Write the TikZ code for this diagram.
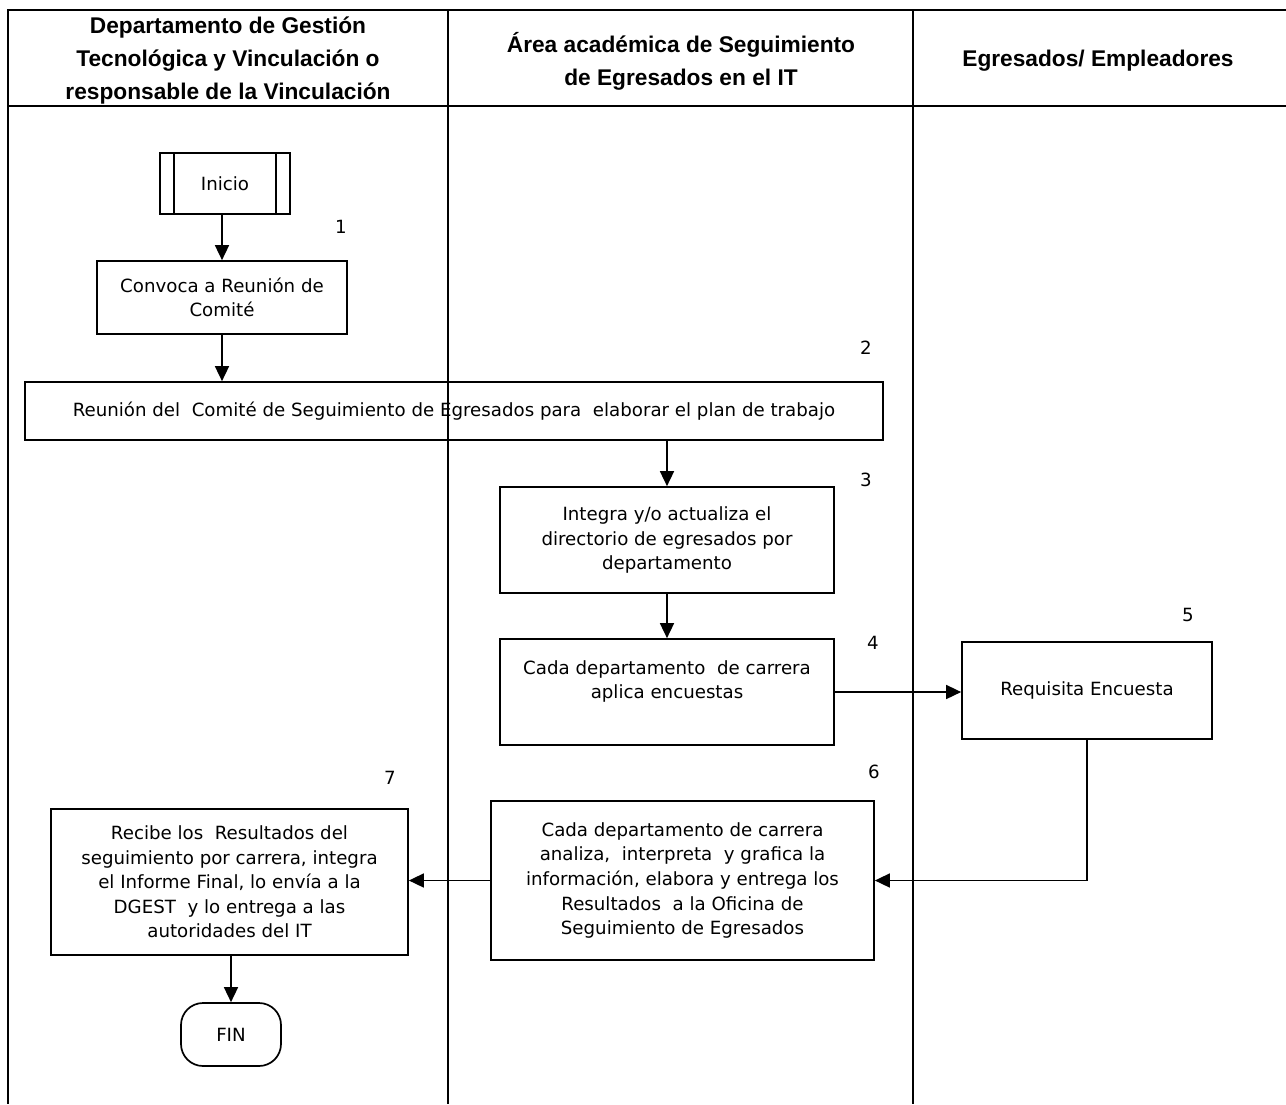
\documentclass[tikz,border=0pt]{standalone}
\usepackage{fontspec}
\setmainfont{Liberation Sans}
\newfontfamily\bodyfont{DejaVu Sans}
\usetikzlibrary{arrows.meta}
\tikzset{
  lane/.style={line width=1.9pt},
  box/.style={draw, line width=1.7pt, inner sep=0pt, align=center,
    font=\bodyfont\fontsize{18.2}{24.6}\selectfont},
  head/.style={align=center, font=\fontsize{22.7}{33}\selectfont\bfseries},
  num/.style={font=\bodyfont\fontsize{18.2}{20}\selectfont},
  flow/.style={line width=1.6pt, -{Triangle[length=15pt,width=14pt]}},
  plain/.style={line width=1.6pt}
}
\begin{document}
\begin{tikzpicture}[x=1pt,y=-1pt]
\useasboundingbox (0,0) rectangle (1286,1104);
% lanes
\draw[lane] (1286,10) -- (8,10) -- (8,1104);
\draw[lane] (8,106) -- (1286,106);
\draw[lane] (448,10) -- (448,1104);
\draw[lane] (913,10) -- (913,1104);
% headers
\node[head] (h1) at (228,61) {Departamento de Gestión\\Tecnológica y Vinculación o\\responsable de la Vinculación};
\node[head] (h2) at (681,61) {Área académica de Seguimiento\\de Egresados en el IT};
\node[head] (h3) at (1098,61) {Egresados/ Empleadores};
% boxes
\node[box, minimum width=130, minimum height=61] (ini) at (225,183.5) {Inicio};
\draw[plain] ([xshift=15]ini.north west) -- ([xshift=15]ini.south west);
\draw[plain] ([xshift=-15]ini.north east) -- ([xshift=-15]ini.south east);
\node[box, minimum width=250, minimum height=73] (conv) at (222,297.5) {Convoca a Reunión de\\Comité};
\node[box, minimum width=858, minimum height=58] (reu) at (454,411) {Reunión del\ \ Comité de Seguimiento de Egresados para\ \ elaborar el plan de trabajo};
\node[box, minimum width=334, minimum height=106] (integ) at (667,540) {Integra y/o actualiza el\\directorio de egresados por\\departamento};
\node[box, minimum width=334, minimum height=106] (apl) at (667,692) {Cada departamento\ \ de carrera\\aplica encuestas\\ \mbox{}};
\node[box, minimum width=250, minimum height=97] (req) at (1087,690.5) {Requisita Encuesta};
\node[box, minimum width=383, minimum height=159] (ana) at (682.5,880.5) {Cada departamento de carrera\\analiza,\ \ interpreta\ \ y grafica la\\información, elabora y entrega los\\Resultados\ \ a la Oficina de\\Seguimiento de Egresados};
\node[box, minimum width=357, minimum height=146] (rec) at (229.5,882) {Recibe los\ \ Resultados del\\seguimiento por carrera, integra\\el Informe Final, lo envía a la\\DGEST\ \ y lo entrega a las\\autoridades del IT};
\node[box, minimum width=100, minimum height=63, rounded corners=22pt] (fin) at (231,1034.5) {FIN};
% numbers
\node[num] (n1) at (341,227) {1};
\node[num] (n2) at (866,348) {2};
\node[num] (n3) at (866,480) {3};
\node[num] (n4) at (873,643) {4};
\node[num] (n5) at (1188,615) {5};
\node[num] (n6) at (874,772) {6};
\node[num] (n7) at (390,778) {7};
% connectors
\draw[flow] (ini.south -| conv.north) -- (conv.north);
\draw[flow] (conv.south) -- (conv.south |- reu.north);
\draw[flow] (integ.north |- reu.south) -- (integ.north);
\draw[flow] (integ.south) -- (apl.north);
\draw[flow] (apl.east) -- (apl.east -| req.west);
\draw[flow] (req.south) |- (ana.east);
\draw[flow] (ana.west) -- (ana.west -| rec.east);
\draw[flow] (rec.south -| fin.north) -- (fin.north);
\end{tikzpicture}
\end{document}
